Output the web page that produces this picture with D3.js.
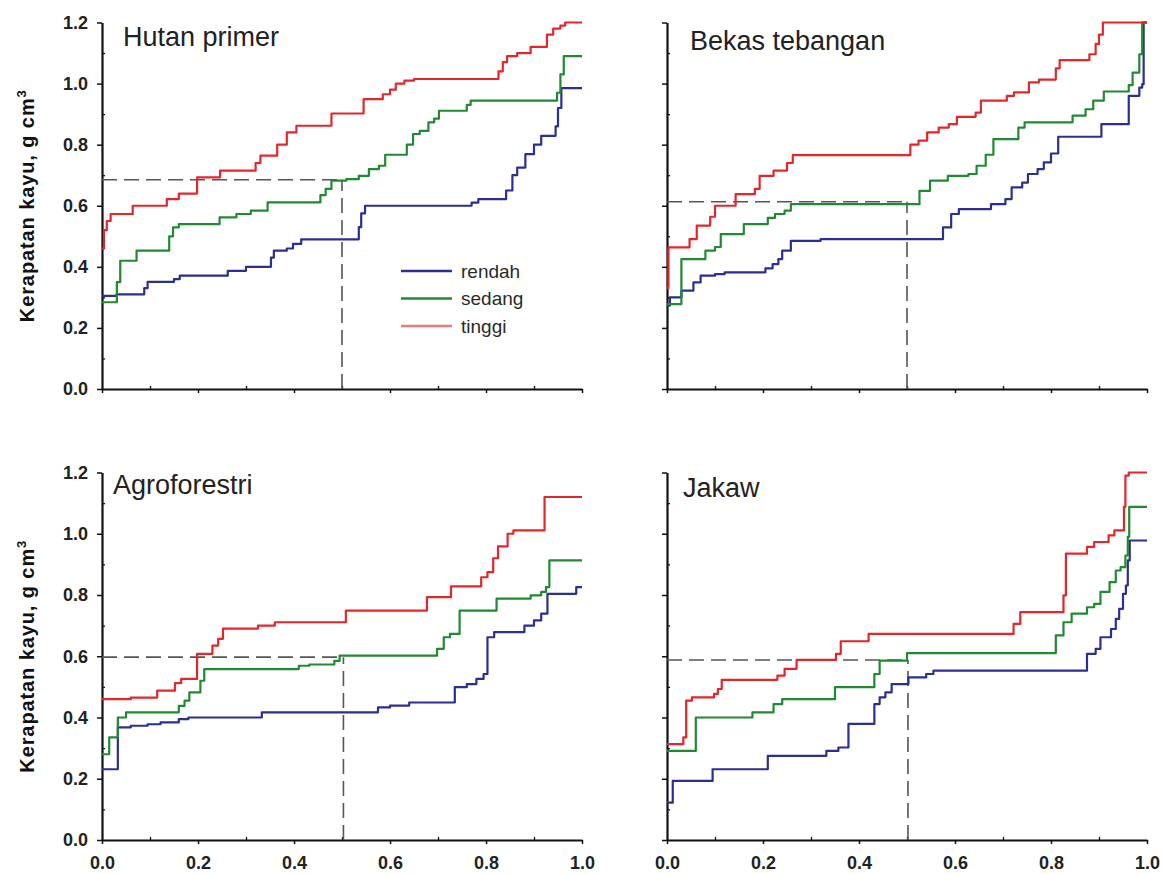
<!DOCTYPE html>
<html>
<head>
<meta charset="utf-8">
<script src="https://cdn.jsdelivr.net/npm/d3@7"></script>
<style>
  html, body { margin: 0; padding: 0; background: #fff; }
  svg { display: block; font-family: "Liberation Sans", Arial, sans-serif; }
</style>
</head>
<body>
<svg id="chart" width="1162" height="874"></svg>
<script>
// Cumulative distribution of wood density (g cm-3) per land-use type,
// split into three classes. Each series: [cumulative fraction, density] steps.
const seriesNames = ["rendah", "sedang", "tinggi"];
const seriesColors = ["#2a2f94", "#1f8a30", "#e4262b"];
const panelTitles = ["Hutan primer", "Bekas tebangan", "Agroforestri", "Jakaw"];
const xTickValues = [0, 0.2, 0.4, 0.6, 0.8, 1.0];
const yTickValues = [0, 0.2, 0.4, 0.6, 0.8, 1.0, 1.2];
const medianDensity = [0.685, 0.613, 0.597, 0.588];
const medianFraction = [0.5, 0.5, 0.503, 0.502];

const hutanRendah = [[0,0.305],[0.03,0.31],[0.088,0.33],[0.095,0.351],[0.15,0.36],[0.162,0.371],[0.262,0.387],[0.3,0.40],[0.352,0.43],[0.358,0.453],[0.385,0.46],[0.398,0.475],[0.415,0.49],[0.535,0.53],[0.54,0.575],[0.548,0.60],[0.77,0.61],[0.784,0.622],[0.842,0.65],[0.855,0.70],[0.865,0.725],[0.882,0.769],[0.9,0.80],[0.915,0.829],[0.945,0.86],[0.95,0.92],[0.957,0.985]];
const hutanSedang = [[0,0.284],[0.031,0.35],[0.038,0.42],[0.072,0.453],[0.14,0.50],[0.148,0.529],[0.16,0.54],[0.245,0.562],[0.28,0.573],[0.31,0.584],[0.345,0.611],[0.455,0.635],[0.466,0.655],[0.478,0.682],[0.509,0.687],[0.535,0.698],[0.556,0.72],[0.577,0.731],[0.59,0.767],[0.635,0.80],[0.648,0.835],[0.662,0.845],[0.68,0.873],[0.692,0.885],[0.702,0.911],[0.76,0.93],[0.768,0.944],[0.948,0.97],[0.955,1.03],[0.962,1.09]];
const hutanTinggi = [[0,0.46],[0.004,0.52],[0.01,0.55],[0.018,0.573],[0.064,0.60],[0.135,0.622],[0.16,0.64],[0.198,0.693],[0.246,0.715],[0.32,0.74],[0.33,0.764],[0.365,0.80],[0.385,0.84],[0.405,0.862],[0.478,0.902],[0.545,0.949],[0.585,0.965],[0.6,0.98],[0.612,1.0],[0.63,1.01],[0.65,1.015],[0.826,1.04],[0.835,1.07],[0.844,1.09],[0.865,1.10],[0.893,1.12],[0.927,1.16],[0.94,1.18],[0.955,1.19],[0.965,1.2]];

const bekasRendah = [[0,0.273],[0.006,0.30],[0.03,0.322],[0.055,0.349],[0.07,0.371],[0.1,0.376],[0.12,0.382],[0.205,0.395],[0.22,0.409],[0.232,0.425],[0.24,0.453],[0.258,0.485],[0.32,0.491],[0.575,0.529],[0.592,0.573],[0.608,0.589],[0.675,0.605],[0.705,0.622],[0.718,0.66],[0.74,0.676],[0.752,0.704],[0.772,0.72],[0.785,0.742],[0.8,0.771],[0.815,0.826],[0.905,0.867],[0.962,0.96],[0.984,0.987],[0.99,0.998],[0.993,1.2]];
const bekasSedang = [[0,0.278],[0.03,0.425],[0.08,0.453],[0.1,0.465],[0.112,0.507],[0.16,0.54],[0.21,0.56],[0.225,0.573],[0.245,0.584],[0.258,0.605],[0.526,0.649],[0.548,0.682],[0.585,0.698],[0.628,0.704],[0.645,0.731],[0.664,0.767],[0.68,0.818],[0.732,0.856],[0.745,0.873],[0.845,0.895],[0.872,0.916],[0.888,0.944],[0.91,0.974],[0.962,0.995],[0.97,1.036],[0.984,1.096],[0.99,1.2]];
const bekasTinggi = [[0,0.33],[0.003,0.464],[0.047,0.491],[0.062,0.535],[0.09,0.564],[0.1,0.60],[0.143,0.638],[0.183,0.655],[0.193,0.698],[0.222,0.715],[0.25,0.74],[0.262,0.766],[0.507,0.80],[0.524,0.813],[0.542,0.84],[0.566,0.856],[0.587,0.867],[0.604,0.891],[0.643,0.905],[0.654,0.944],[0.708,0.96],[0.723,0.971],[0.754,1.004],[0.775,1.013],[0.81,1.05],[0.818,1.077],[0.88,1.096],[0.893,1.13],[0.9,1.16],[0.908,1.2]];

const agroRendah = [[0,0.231],[0.033,0.368],[0.06,0.373],[0.095,0.378],[0.122,0.384],[0.16,0.395],[0.18,0.40],[0.333,0.417],[0.575,0.433],[0.6,0.439],[0.64,0.449],[0.735,0.499],[0.76,0.509],[0.78,0.526],[0.795,0.542],[0.803,0.662],[0.817,0.679],[0.88,0.70],[0.9,0.717],[0.915,0.739],[0.928,0.804],[0.988,0.826]];
const agroSedang = [[0,0.28],[0.015,0.335],[0.033,0.40],[0.05,0.417],[0.16,0.438],[0.172,0.455],[0.182,0.482],[0.205,0.52],[0.213,0.558],[0.41,0.569],[0.432,0.573],[0.484,0.585],[0.495,0.602],[0.698,0.624],[0.712,0.662],[0.725,0.673],[0.745,0.749],[0.822,0.788],[0.893,0.799],[0.915,0.81],[0.925,0.826],[0.932,0.913]];
const agroTinggi = [[0,0.46],[0.06,0.465],[0.115,0.488],[0.152,0.512],[0.165,0.526],[0.198,0.608],[0.23,0.635],[0.242,0.657],[0.252,0.69],[0.325,0.70],[0.36,0.711],[0.508,0.749],[0.677,0.793],[0.727,0.828],[0.79,0.858],[0.803,0.875],[0.815,0.92],[0.825,0.959],[0.845,1.0],[0.857,1.011],[0.922,1.12]];

const jakawRendah = [[0,0.122],[0.012,0.193],[0.095,0.231],[0.21,0.275],[0.332,0.291],[0.357,0.302],[0.378,0.379],[0.432,0.444],[0.443,0.466],[0.455,0.482],[0.468,0.509],[0.503,0.531],[0.54,0.542],[0.555,0.553],[0.875,0.608],[0.893,0.624],[0.903,0.662],[0.925,0.689],[0.935,0.722],[0.942,0.755],[0.95,0.804],[0.956,0.831],[0.96,0.913],[0.964,0.978]];
const jakawSedang = [[0,0.291],[0.06,0.40],[0.178,0.417],[0.222,0.444],[0.24,0.46],[0.35,0.499],[0.432,0.542],[0.443,0.586],[0.5,0.61],[0.81,0.668],[0.826,0.711],[0.843,0.739],[0.875,0.76],[0.89,0.771],[0.903,0.81],[0.922,0.842],[0.935,0.88],[0.945,0.891],[0.955,0.929],[0.96,0.99],[0.963,1.088]];
const jakawTinggi = [[0,0.313],[0.034,0.335],[0.04,0.455],[0.052,0.466],[0.098,0.477],[0.106,0.493],[0.114,0.523],[0.23,0.537],[0.245,0.559],[0.27,0.588],[0.352,0.608],[0.362,0.649],[0.42,0.673],[0.722,0.706],[0.736,0.744],[0.826,0.799],[0.831,0.935],[0.875,0.957],[0.89,0.973],[0.92,0.995],[0.932,1.011],[0.952,1.088],[0.955,1.19],[0.962,1.2]];

const panelSeries = [
  [hutanRendah, hutanSedang, hutanTinggi],
  [bekasRendah, bekasSedang, bekasTinggi],
  [agroRendah, agroSedang, agroTinggi],
  [jakawRendah, jakawSedang, jakawTinggi]
];

// Layout of the 2x2 grid
const frames = [
  { left: 102, right: 582, top: 22.5, bottom: 389, titleDx: 21, titleDy: 23.5, yLabels: true,  xLabels: false },
  { left: 667, right: 1147, top: 22.5, bottom: 389, titleDx: 23, titleDy: 27.5, yLabels: false, xLabels: false },
  { left: 102, right: 582, top: 472.5, bottom: 840, titleDx: 11, titleDy: 21, yLabels: true,  xLabels: true },
  { left: 667, right: 1147, top: 472.5, bottom: 840, titleDx: 16, titleDy: 24.5, yLabels: false, xLabels: true }
];

const svg = d3.select("#chart");
const fmt = d3.format(".1f");

frames.forEach((f, i) => {
  const x = d3.scaleLinear().domain([0, 1]).range([f.left, f.right]);
  const y = d3.scaleLinear().domain([0, 1.2]).range([f.bottom, f.top]);
  const g = svg.append("g");

  // minor ticks (inside)
  const minorX = d3.range(1, 10, 2).map(v => v / 10);
  const minorY = d3.range(1, 12, 2).map(v => v / 10);
  g.append("g").attr("transform", `translate(0,${f.bottom})`)
    .call(d3.axisBottom(x).tickValues(minorX).tickSizeInner(-3).tickSizeOuter(0).tickFormat(""))
    .call(a => a.select(".domain").remove())
    .call(a => a.selectAll("line").attr("stroke", "#111").attr("stroke-width", 1.3));
  g.append("g").attr("transform", `translate(${f.left},0)`)
    .call(d3.axisLeft(y).tickValues(minorY).tickSizeInner(-3).tickSizeOuter(0).tickFormat(""))
    .call(a => a.select(".domain").remove())
    .call(a => a.selectAll("line").attr("stroke", "#111").attr("stroke-width", 1.3));

  // major ticks (outside)
  const xa = g.append("g").attr("transform", `translate(0,${f.bottom})`)
    .call(d3.axisBottom(x).tickValues(xTickValues).tickSizeInner(4).tickSizeOuter(0)
      .tickPadding(12).tickFormat(f.xLabels ? fmt : ""));
  const ya = g.append("g").attr("transform", `translate(${f.left},0)`)
    .call(d3.axisLeft(y).tickValues(yTickValues).tickSizeInner(5).tickSizeOuter(0)
      .tickPadding(9).tickFormat(f.yLabels ? fmt : ""));
  [xa, ya].forEach(a => {
    a.select(".domain").attr("stroke", "#111").attr("stroke-width", 2.2);
    a.selectAll("line").attr("stroke", "#111").attr("stroke-width", 1.5);
    a.selectAll("text").attr("font-size", 18).attr("font-weight", "bold")
      .attr("fill", "#222").attr("font-family", "'Liberation Sans', Arial, sans-serif");
  });

  // median reference lines
  const md = medianDensity[i], mf = medianFraction[i];
  g.append("line")
    .attr("x1", x(0)).attr("x2", x(mf)).attr("y1", y(md)).attr("y2", y(md))
    .attr("stroke", "#555").attr("stroke-width", 1.6).attr("stroke-dasharray", "15,7");
  g.append("line")
    .attr("x1", x(mf)).attr("x2", x(mf)).attr("y1", y(0)).attr("y2", y(md))
    .attr("stroke", "#555").attr("stroke-width", 1.6).attr("stroke-dasharray", "15,7");

  // step curves
  const line = d3.line().x(d => x(d[0])).y(d => y(d[1])).curve(d3.curveStepAfter);
  panelSeries[i].forEach((pts, k) => {
    const full = pts.concat([[1, pts[pts.length - 1][1]]]);
    g.append("path").datum(full)
      .attr("d", line)
      .attr("fill", "none")
      .attr("stroke", seriesColors[k])
      .attr("stroke-width", 2.2)
      .attr("stroke-linejoin", "round");
  });

  // panel title
  g.append("text")
    .attr("x", f.left + f.titleDx).attr("y", f.top + f.titleDy)
    .attr("font-size", 27).attr("fill", "#222")
    .text(panelTitles[i]);

  // y-axis title on the left column
  if (f.yLabels) {
    const t = g.append("text")
      .attr("transform", `translate(34,${(f.top + f.bottom) / 2}) rotate(-90)`)
      .attr("text-anchor", "middle")
      .attr("font-size", 20).attr("font-weight", "bold").attr("fill", "#111")
      .attr("letter-spacing", 0.9);
    t.append("tspan").text("Kerapatan kayu, g cm");
    t.append("tspan").attr("dy", -8).attr("font-size", 13).text("3");
  }
});

// legend inside the first panel
const legend = svg.append("g").attr("transform", "translate(401,271)");
seriesNames.forEach((name, k) => {
  const row = legend.append("g").attr("transform", `translate(0,${k * 27.5})`);
  row.append("line").attr("x1", 0).attr("x2", 51).attr("y1", 0).attr("y2", 0)
    .attr("stroke", seriesColors[k]).attr("stroke-width", 2.4)
    .attr("stroke-opacity", k === 2 ? 0.62 : 1);
  row.append("text").attr("x", 60).attr("y", 6.5)
    .attr("font-size", 19).attr("fill", "#2a2a2a").text(name);
});
</script>
</body>
</html>
